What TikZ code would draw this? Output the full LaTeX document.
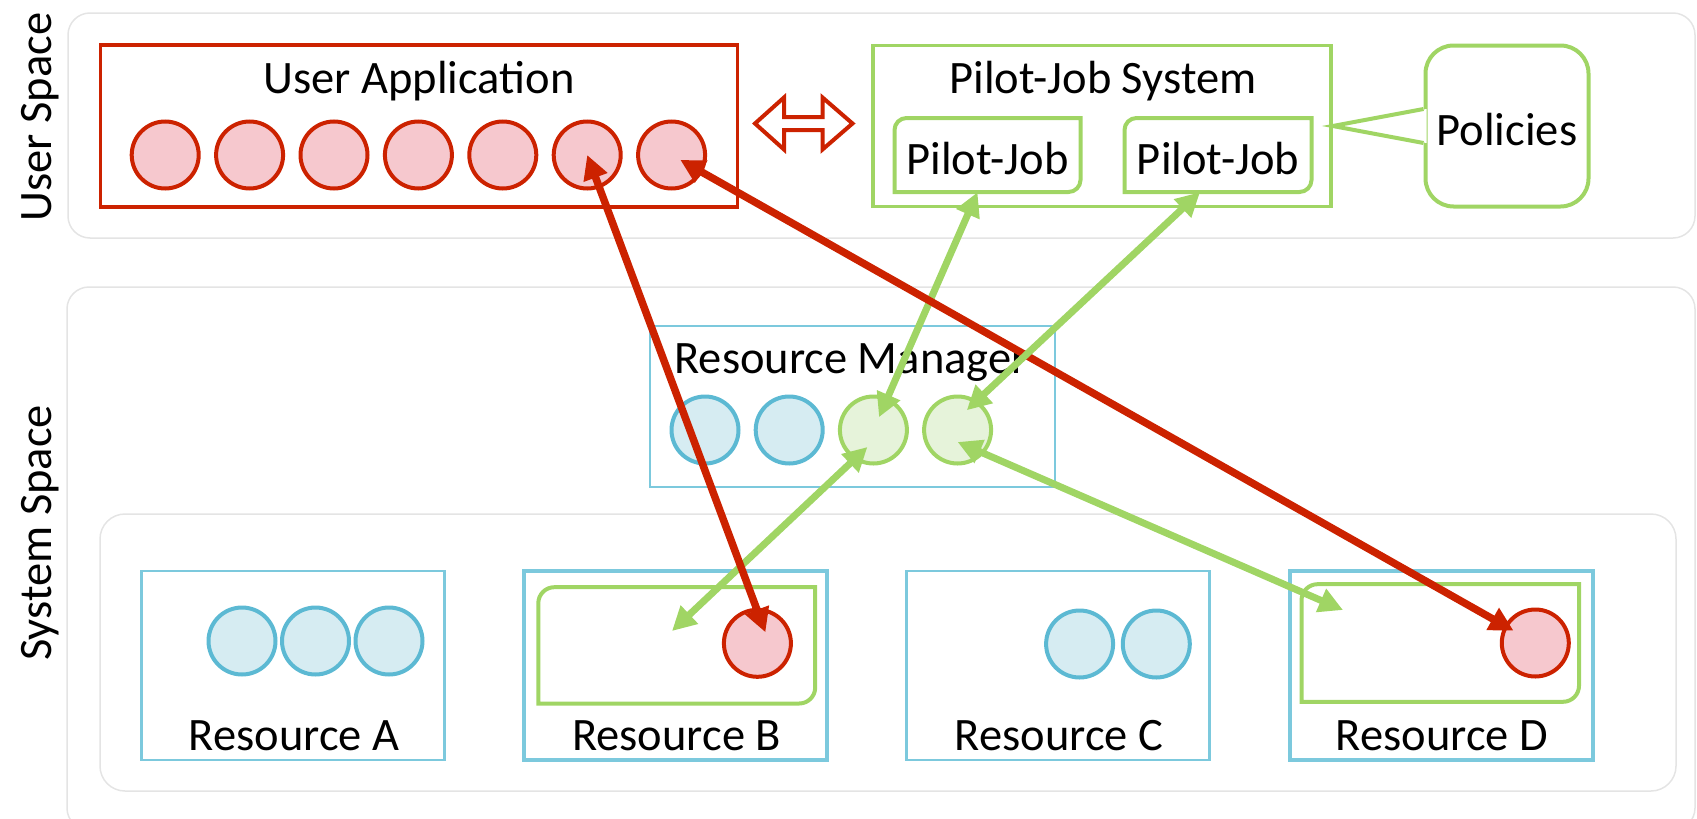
\documentclass[tikz,border=0pt]{standalone}
\usepackage{fontspec}
\setmainfont{Carlito}
\usepackage{xcolor}
\usepackage{tikz}
\usetikzlibrary{arrows.meta}

\definecolor{appred}{HTML}{CC2200}
\definecolor{appredfill}{HTML}{F6C8CE}
\definecolor{pilotgreen}{HTML}{A0D564}
\definecolor{pilotgreenfill}{HTML}{E6F3DA}
\definecolor{resblue}{HTML}{5CB9D3}
\definecolor{resboxblue}{HTML}{7CC9DD}
\definecolor{resbluefill}{HTML}{D6ECF2}
\definecolor{panelgray}{HTML}{E4E4E4}

\begin{document}
\begin{tikzpicture}[x=1pt,y=-1pt,
    txt/.style={font=\fontsize{46.5pt}{56pt}\selectfont, inner sep=0pt, anchor=base},
    boxtxt/.style={txt, anchor=center, text height=38pt, text depth=0pt},
    panel/.style={draw=panelgray, line width=1.5pt, rounded corners=22pt},
    job/.style={circle, line width=4pt, minimum size=67pt, inner sep=0pt},
    redjob/.style={job, draw=appred, fill=appredfill},
    bluejob/.style={job, draw=resblue, fill=resbluefill},
    greenjob/.style={job, draw=pilotgreen, fill=pilotgreenfill},
    resbox/.style={draw=resboxblue, line width=2.5pt, minimum width=303pt, minimum height=189pt, inner sep=0pt},
    resboxpilot/.style={resbox, line width=4pt},
    pilotline/.style={draw=pilotgreen, line width=4pt},
    redlink/.style={draw=appred, line width=7.5pt, >={Triangle[length=24pt,width=24pt]}, <->},
    greenlink/.style={draw=pilotgreen, line width=7pt, >={Triangle[length=24pt,width=24pt]}, <->},
]
    \useasboundingbox (0,0) rectangle (1697,819);

    % Spaces
    \draw[panel] (68,13) rectangle (1695,238);
    \draw[panel] (67,287) rectangle (1695,830);
    \draw[panel, rounded corners=25pt] (100,514) rectangle (1676,791);
    \node[txt, rotate=90] (userspace) at (51,117) {User Space};
    \node[txt, rotate=90] (systemspace) at (51,533) {System Space};

    % User application and its tasks
    \node[draw=appred, line width=3.5pt, minimum width=637pt, minimum height=162pt, inner sep=0pt] (app) at (419,126) {};
    \node[txt] (apptitle) at (419,93) {User Application};
    \foreach \i in {1,...,7} {
        \node[redjob] (job\i) at ({80.8+84.4*\i},155) {};
    }

    % Coupling arrow
    \draw[draw=appred, fill=white, line width=4pt] (755,123.5) -- (784,97.5) -- (784,117)
        -- (822.5,117) -- (822.5,97.5) -- (852.5,123.5) -- (822.5,149.5) -- (822.5,130)
        -- (784,130) -- (784,149.5) -- cycle;

    % Pilot-Job system
    \node[draw=pilotgreen, line width=3.5pt, minimum width=458pt, minimum height=161pt, inner sep=0pt] (pjs) at (1102,126) {};
    \node[txt] (pjstitle) at (1103,93) {Pilot-Job System};
    \node[boxtxt, minimum width=186pt, minimum height=74pt] (pj1) at (987.5,155) {Pilot-Job};
    \node[boxtxt, minimum width=187pt, minimum height=74pt] (pj2) at (1218,155) {Pilot-Job};

    % Policies callout
    \node[boxtxt, pilotline, fill=white, rounded corners=28pt, minimum width=163pt, minimum height=161pt] (policies) at (1507,126) {Policies};
    \fill[white] ([xshift=3pt,yshift=17pt]policies.west) -- (pjs.east) -- ([xshift=3pt,yshift=-17pt]policies.west) -- cycle;
    \draw[pilotline] ([yshift=17pt]policies.west) -- (pjs.east) -- ([yshift=-17pt]policies.west);

    % Resource manager and its queue
    \node[draw=resboxblue, line width=2.5pt, minimum width=405pt, minimum height=161pt, inner sep=0pt] (rm) at (852.5,406.5) {};
    \node[txt] (rmtitle) at (851,373) {Resource Manager};
    \foreach \i/\s in {1/bluejob,2/bluejob,3/greenjob,4/greenjob} {
        \node[\s] (rmjob\i) at ({620.8+84.2*\i},430) {};
    }

    % Resources
    \foreach \n/\x/\s in {A/293/resbox, B/675.5/resboxpilot, C/1058/resbox, D/1441/resboxpilot} {
        \node[\s] (res\n) at (\x,665.5) {};
        \node[txt] (title\n) at (\x+1,750) {Resource \n};
    }

    % Pilot-Job boxes (top left and bottom right corners rounded)
    \foreach \xa/\ya/\xb/\yb/\r in {894.5/118/1080.5/192/12, 1124.5/118/1311.5/192/12,
                                     538.3/587.2/815.2/703.5/16, 1301.5/584.2/1579/701.8/16} {
        \draw[pilotline] (\xa,\yb) -- (\xa,\ya+\r) .. controls (\xa,\ya+0.45*\r) and (\xa+0.45*\r,\ya) .. (\xa+\r,\ya)
            -- (\xb,\ya) -- (\xb,\yb-\r) .. controls (\xb,\yb-0.45*\r) and (\xb-0.45*\r,\yb) .. (\xb-\r,\yb) -- cycle;
    }

    % Jobs on the resources
    \foreach \x [count=\i] in {242,315.5,389} {
        \node[bluejob] (resAjob\i) at (\x,641) {};
    }
    \foreach \x [count=\i] in {1079.6,1156.3} {
        \node[bluejob] (resCjob\i) at (\x,644) {};
    }
    \node[redjob] (resBjob) at (757.4,643.3) {};
    \node[redjob] (resDjob) at (1535.3,643) {};
    \coordinate (resBslot) at (672,631);
    \coordinate (resDslot) at (1343,610);

    % Links
    \draw[greenlink, shorten >=14pt] ([xshift=-10pt]pj1.south) -- (rmjob3.center);
    \draw[greenlink] ([xshift=-6pt,yshift=-17pt]rmjob3.center) -- (resBslot);
    \draw[greenlink] ([yshift=-12pt]rmjob4.center) -- (resDslot);
    \draw[redlink] (job6.center) -- ([xshift=8pt,yshift=11pt]resBjob.center);
    \draw[redlink, shorten <=10pt, shorten >=25pt] (job7.center) -- (resDjob.center);
    \draw[greenlink, shorten >=29pt] ([xshift=-18pt]pj2.south) -- ([xshift=-12pt]rmjob4.center);

\end{tikzpicture}
\end{document}
